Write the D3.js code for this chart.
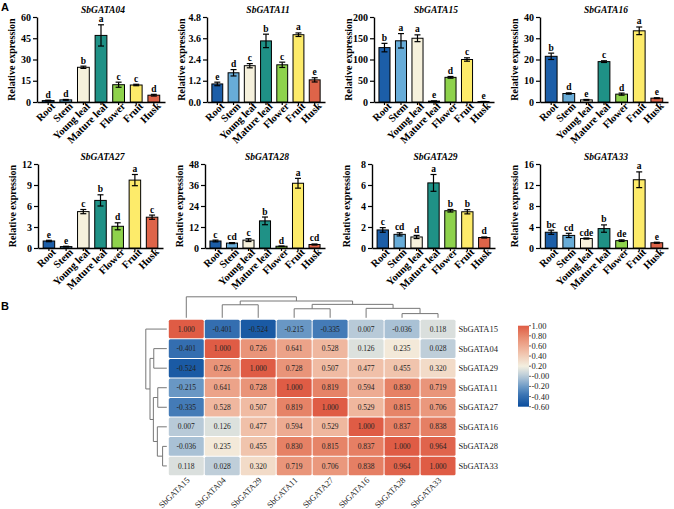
<!DOCTYPE html>
<html>
<head>
<meta charset="utf-8">
<script src="https://cdn.jsdelivr.net/npm/d3@7"></script>
<style>
  body { margin: 0; background: #fff; }
  svg { display: block; }
</style>
</head>
<body>
<div id="fig"></div>
<script>
// ---- data ----
const tissues = ["Root", "Stem", "Young leaf", "Mature leaf", "Flower", "Fruit", "Husk"];
const tissueColors = ["#1c5ea8", "#68acd8", "#f6f1dc", "#1f9186", "#8ed24c", "#fdeb6a", "#de6449"];

const genes = ["SbGATA04", "SbGATA11", "SbGATA15", "SbGATA16", "SbGATA27", "SbGATA28", "SbGATA29", "SbGATA33"];
const yMax = [60, 4.8, 200, 40, 12, 48, 8, 16];
const yStep = [15, 1.2, 50, 10, 3, 12, 2, 4];
const tickDecimals = [0, 1, 0, 0, 0, 0, 0, 0];

const meanValues = [
  [1.0, 1.5, 24.5, 47, 12.2, 12.0, 4.8],
  [1.02, 1.65, 2.05, 3.45, 2.1, 3.8, 1.25],
  [128, 144, 150, 2, 58, 100, 1],
  [21.5, 4.0, 1.0, 19.0, 3.7, 33.5, 1.8],
  [1.0, 0.2, 5.2, 6.8, 3.1, 9.7, 4.4],
  [4.0, 2.8, 4.5, 15.5, 1.0, 37, 2.0],
  [1.72, 1.3, 1.05, 6.2, 3.55, 3.45, 1.0],
  [3.0, 2.4, 1.8, 3.7, 1.4, 13.0, 1.0]
];
const errValues = [
  [0.3, 0.3, 0.8, 7.5, 1.8, 0.5, 0.6],
  [0.1, 0.18, 0.12, 0.38, 0.15, 0.1, 0.12],
  [10, 17, 8, 0.5, 2, 4, 0.3],
  [1.5, 0.3, 0.2, 0.4, 0.5, 1.8, 0.2],
  [0.1, 0.05, 0.3, 0.8, 0.5, 0.8, 0.3],
  [0.5, 0.3, 0.8, 2.2, 0.1, 2.8, 0.3],
  [0.22, 0.15, 0.15, 0.8, 0.12, 0.2, 0.05],
  [0.4, 0.4, 0.1, 0.7, 0.15, 1.5, 0.1]
];
const sigLetters = [
  ["d", "d", "b", "a", "c", "c", "d"],
  ["e", "d", "c", "b", "c", "a", "e"],
  ["b", "a", "a", "e", "d", "c", "e"],
  ["b", "d", "e", "c", "d", "a", "e"],
  ["e", "e", "c", "b", "d", "a", "c"],
  ["c", "cd", "c", "b", "d", "a", "cd"],
  ["c", "cd", "d", "a", "b", "b", "d"],
  ["bc", "cd", "cde", "b", "de", "a", "e"]
];

// correlation heatmap (clustered order)
const corrLabels = ["SbGATA15", "SbGATA04", "SbGATA29", "SbGATA11", "SbGATA27", "SbGATA16", "SbGATA28", "SbGATA33"];
const corrMatrix = [
  [1.000, -0.401, -0.524, -0.215, -0.335, 0.007, -0.036, 0.118],
  [-0.401, 1.000, 0.726, 0.641, 0.528, 0.126, 0.235, 0.028],
  [-0.524, 0.726, 1.000, 0.728, 0.507, 0.477, 0.455, 0.320],
  [-0.215, 0.641, 0.728, 1.000, 0.819, 0.594, 0.830, 0.719],
  [-0.335, 0.528, 0.507, 0.819, 1.000, 0.529, 0.815, 0.706],
  [0.007, 0.126, 0.477, 0.594, 0.529, 1.000, 0.837, 0.838],
  [-0.036, 0.235, 0.455, 0.830, 0.815, 0.837, 1.000, 0.964],
  [0.118, 0.028, 0.320, 0.719, 0.706, 0.838, 0.964, 1.000]
];
// dendrogram merges: [childA, childB, height]; leaves 0-7, new clusters 8..
const clusterMerges = [
  [6, 7, 0.20],
  [3, 4, 0.43],
  [5, 8, 0.45],
  [1, 2, 0.62],
  [9, 10, 0.64],
  [11, 12, 0.80],
  [0, 13, 1.00]
];
const legendTicks = [1.0, 0.8, 0.6, 0.4, 0.2, 0.0, -0.2, -0.4, -0.6];
const legendLabels = ["1.00", "0.80", "0.60", "0.40", "0.20", "-0.00", "-0.20", "-0.40", "-0.60"];

// ---- layout ----
const width = 674, height = 509;
const serif = "'Liberation Serif', 'Times New Roman', serif";

const panelBox = [
  [37, 165], [207, 325], [374, 494], [540, 668],
  [38, 163], [205, 325], [372, 495], [540, 668]
];
const rowTop = [17, 164], rowBottom = [102, 248];

const svg = d3.select("#fig").append("svg")
  .attr("width", width)
  .attr("height", height);

svg.append("text")
  .attr("x", 1).attr("y", 11)
  .style("font-family", "'Liberation Sans', Arial, sans-serif")
  .style("font-weight", "bold").style("font-size", "11px")
  .text("A");

genes.forEach((gene, gi) => {
  const row = gi < 4 ? 0 : 1;
  const [x0, x1] = panelBox[gi];
  const top = rowTop[row], bottom = rowBottom[row];
  const g = svg.append("g");

  const x = d3.scaleBand()
    .domain(tissues)
    .range([x0, x1])
    .paddingInner(0.33)
    .paddingOuter(0.3);

  const y = d3.scaleLinear()
    .domain([0, yMax[gi]])
    .range([bottom, top]);

  const ticks = d3.range(0, yMax[gi] + yStep[gi] / 2, yStep[gi]);
  const fmt = d3.format(`.${tickDecimals[gi]}f`);

  const yAxis = g.append("g")
    .attr("transform", `translate(${x0},0)`)
    .call(d3.axisLeft(y).tickValues(ticks).tickFormat(fmt).tickSize(4).tickSizeOuter(0).tickPadding(2));

  const xAxis = g.append("g")
    .attr("transform", `translate(0,${bottom})`)
    .call(d3.axisBottom(x).tickSize(3).tickSizeOuter(0));

  [yAxis, xAxis].forEach(a => {
    a.select(".domain").attr("stroke-width", 1.4);
    a.selectAll(".tick line").attr("stroke-width", 1.2);
    a.selectAll("text")
      .style("font-family", serif)
      .style("font-weight", "bold")
      .style("font-size", "10px")
      .attr("fill", "#000");
  });

  xAxis.selectAll("text")
    .style("font-size", "10.5px")
    .attr("x", 2).attr("y", 5).attr("dy", "0.35em")
    .attr("transform", "rotate(-45)")
    .style("text-anchor", "end");

  // y label
  g.append("text")
    .attr("transform", `translate(${x0 - 22},${(top + bottom) / 2}) rotate(-90)`)
    .style("text-anchor", "middle")
    .style("font-family", serif).style("font-weight", "bold").style("font-size", "10px")
    .text("Relative expression");

  // title
  g.append("text")
    .attr("x", (x0 + x1) / 2 + 2).attr("y", top - 4)
    .style("text-anchor", "middle")
    .style("font-family", serif).style("font-weight", "bold").style("font-style", "italic")
    .style("font-size", "9.5px")
    .text(gene);

  const data = tissues.map((t, i) => ({
    tissue: t, mean: meanValues[gi][i], err: errValues[gi][i], sig: sigLetters[gi][i], color: tissueColors[i]
  }));

  g.selectAll(".bar").data(data).enter()
    .append("rect")
    .attr("x", d => x(d.tissue))
    .attr("y", d => y(d.mean))
    .attr("width", x.bandwidth())
    .attr("height", d => bottom - y(d.mean))
    .attr("fill", d => d.color)
    .attr("stroke", "#000")
    .attr("stroke-width", 1);

  const eb = g.selectAll(".err").data(data).enter().append("g")
    .attr("stroke", "#000").attr("stroke-width", 1.2);
  eb.append("line")
    .attr("x1", d => x(d.tissue) + x.bandwidth() / 2)
    .attr("x2", d => x(d.tissue) + x.bandwidth() / 2)
    .attr("y1", d => y(Math.max(0, d.mean - d.err)))
    .attr("y2", d => y(d.mean + d.err));
  [1, -1].forEach(s => {
    eb.append("line")
      .attr("x1", d => x(d.tissue) + x.bandwidth() / 2 - 3)
      .attr("x2", d => x(d.tissue) + x.bandwidth() / 2 + 3)
      .attr("y1", d => y(Math.max(0, d.mean + s * d.err)))
      .attr("y2", d => y(Math.max(0, d.mean + s * d.err)));
  });

  g.selectAll(".sig").data(data).enter()
    .append("text")
    .attr("x", d => x(d.tissue) + x.bandwidth() / 2)
    .attr("y", d => y(d.mean + d.err) - 2.5)
    .style("text-anchor", "middle")
    .style("font-family", serif).style("font-weight", "bold").style("font-size", "9.5px")
    .text(d => d.sig);
});

// ---- panel B ----
svg.append("text")
  .attr("x", 1).attr("y", 310)
  .style("font-family", "'Liberation Sans', Arial, sans-serif")
  .style("font-weight", "bold").style("font-size", "11px")
  .text("B");

const hmLeft = 168.3, hmTop = 319.3, hmRight = 456, hmBottom = 475.7;

const hx = d3.scaleBand().domain(corrLabels).range([hmLeft, hmRight]);
const hy = d3.scaleBand().domain(corrLabels).range([hmTop, hmBottom]);

const color = d3.scaleLinear()
  .domain([-0.6, -0.35, -0.2, 0.0, 0.2, 0.5, 0.8, 1.0])
  .range(["#0a4d9d", "#3f77b5", "#6e9bc6", "#b6c9d8", "#f3efe0", "#f0bca4", "#e7876b", "#df5c45"])
  .interpolate(d3.interpolateRgb);

const cells = [];
corrMatrix.forEach((r, i) => r.forEach((v, j) => cells.push({ r: corrLabels[i], c: corrLabels[j], v })));

svg.append("g").selectAll("rect").data(cells).enter()
  .append("rect")
  .attr("x", d => hx(d.c) + 0.5)
  .attr("y", d => hy(d.r) + 0.5)
  .attr("width", hx.bandwidth() - 1)
  .attr("height", hy.bandwidth() - 1)
  .attr("rx", 1.5)
  .attr("fill", d => color(d.v));

svg.append("g").selectAll("text").data(cells).enter()
  .append("text")
  .attr("x", d => hx(d.c) + hx.bandwidth() / 2)
  .attr("y", d => hy(d.r) + hy.bandwidth() / 2)
  .attr("dy", "0.35em")
  .style("text-anchor", "middle")
  .style("font-family", serif).style("font-size", "7.5px")
  .attr("fill", "#222")
  .text(d => d.v.toFixed(3));

// row labels
svg.append("g").selectAll("text").data(corrLabels).enter()
  .append("text")
  .attr("x", hmRight + 2.5)
  .attr("y", d => hy(d) + hy.bandwidth() / 2)
  .attr("dy", "0.35em")
  .style("font-family", serif).style("font-size", "8.5px")
  .attr("fill", "#222")
  .text(d => d);

// column labels
svg.append("g").selectAll("text").data(corrLabels).enter()
  .append("text")
  .attr("transform", d => `translate(${hx(d) + hx.bandwidth() / 2 + 4},${hmBottom + 5}) rotate(-45)`)
  .style("text-anchor", "end")
  .style("font-family", serif).style("font-size", "8.5px")
  .attr("fill", "#222")
  .text(d => d);

// dendrograms
const dist = d3.scaleLinear().domain([0, 1]).range([1.5, 22.5]);
function buildTree(centerOf) {
  const pos = corrLabels.map(d => centerOf(d));
  const hgt = corrLabels.map(() => 0);
  const segs = [];
  clusterMerges.forEach(([a, b, h]) => {
    segs.push({ p1: pos[a], p2: pos[b], h1: hgt[a], h2: hgt[b], h });
    pos.push((pos[a] + pos[b]) / 2);
    hgt.push(h);
  });
  return segs;
}
const treeStyle = sel => sel.attr("fill", "none").attr("stroke", "#777").attr("stroke-width", 1);

const colSegs = buildTree(d => hx(d) + hx.bandwidth() / 2);
svg.append("g").selectAll("path").data(colSegs).enter()
  .append("path")
  .attr("d", s => `M${s.p1},${hmTop - dist(s.h1)}V${hmTop - dist(s.h)}H${s.p2}V${hmTop - dist(s.h2)}`)
  .call(treeStyle);

const rowSegs = buildTree(d => hy(d) + hy.bandwidth() / 2);
svg.append("g").selectAll("path").data(rowSegs).enter()
  .append("path")
  .attr("d", s => `M${hmLeft - dist(s.h1)},${s.p1}H${hmLeft - dist(s.h)}V${s.p2}H${hmLeft - dist(s.h2)}`)
  .call(treeStyle);

// colour legend
const lgX = 518, lgW = 11, lgTop = 325.7, lgBottom = 406.7;
const ly = d3.scaleLinear().domain([1, -0.6]).range([lgTop, lgBottom]);
const grad = svg.append("defs").append("linearGradient")
  .attr("id", "lg").attr("x1", 0).attr("y1", 0).attr("x2", 0).attr("y2", 1);
d3.range(0, 1.0001, 0.05).forEach(t => {
  grad.append("stop").attr("offset", t).attr("stop-color", color(ly.invert(lgTop + t * (lgBottom - lgTop))));
});
svg.append("rect")
  .attr("x", lgX).attr("y", lgTop)
  .attr("width", lgW).attr("height", lgBottom - lgTop)
  .attr("fill", "url(#lg)");

const lg = svg.append("g").selectAll("g").data(legendTicks).enter().append("g")
  .attr("transform", d => `translate(${lgX + lgW},${ly(d)})`);
lg.append("line").attr("x1", 0).attr("x2", 2).attr("stroke", "#444").attr("stroke-width", 0.8);
lg.append("text")
  .attr("x", 2.5).attr("dy", "0.35em")
  .style("font-family", serif).style("font-size", "8.5px")
  .attr("fill", "#222")
  .text((d, i) => legendLabels[i]);
</script>
</body>
</html>
